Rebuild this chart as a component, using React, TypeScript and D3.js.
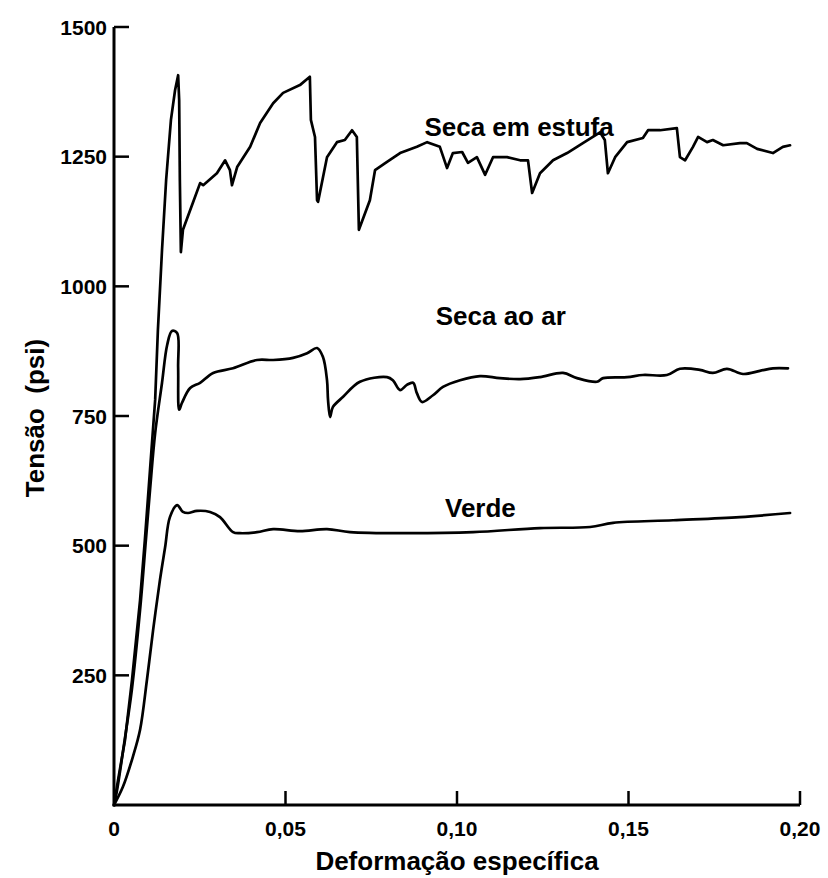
import React from "react";
import * as d3 from "d3";

const xTicks = [0, 0.05, 0.1, 0.15, 0.2];
const xTickLabels = ["0", "0,05", "0,10", "0,15", "0,20"];
const yTicks = [250, 500, 750, 1000, 1250, 1500];
const yTickLabels = ["250", "500", "750", "1000", "1250", "1500"];

// Seca em estufa: [deformação, tensão]
const estufaX = [0, 0.00117, 0.0032, 0.00525, 0.0076, 0.009, 0.0105, 0.012, 0.0128, 0.014, 0.0152, 0.0166, 0.0178, 0.0187,
  0.019, 0.0192, 0.0195, 0.0201, 0.023, 0.0251, 0.026, 0.03, 0.0324, 0.0338, 0.0344, 0.0359, 0.0397, 0.0426, 0.0464, 0.0493,
  0.0542, 0.0571, 0.0574, 0.0586, 0.0592, 0.0595, 0.0621, 0.065, 0.0673, 0.0694, 0.0708, 0.0714, 0.0746, 0.0761, 0.0796,
  0.0834, 0.0883, 0.0913, 0.095, 0.0971, 0.0988, 0.1015, 0.1032, 0.1058, 0.1082, 0.1105, 0.1146, 0.1184, 0.1207, 0.1219,
  0.1242, 0.128, 0.1321, 0.1367, 0.1417, 0.1431, 0.144, 0.1461, 0.1496, 0.1542, 0.1557, 0.1592, 0.1641, 0.165, 0.1665,
  0.1688, 0.1703, 0.1729, 0.1746, 0.1776, 0.1825, 0.1845, 0.1875, 0.1921, 0.195, 0.1971];
const estufaY = [0, 48, 125, 241, 395, 511, 646, 781, 916, 1070, 1205, 1321, 1378, 1407,
  1359, 1205, 1066, 1109, 1161, 1199, 1195, 1218, 1243, 1224, 1195, 1230, 1269, 1315, 1353, 1373,
  1388, 1404, 1321, 1288, 1166, 1163, 1249, 1278, 1282, 1301, 1288, 1109, 1166, 1224, 1240,
  1257, 1269, 1278, 1269, 1228, 1257, 1259, 1238, 1249, 1215, 1249, 1249, 1243, 1243, 1180,
  1218, 1243, 1257, 1276, 1297, 1282, 1218, 1249, 1278, 1286, 1301, 1301, 1305, 1249, 1243,
  1269, 1288, 1278, 1282, 1272, 1276, 1276, 1265, 1257, 1269, 1272];

// Seca ao ar
const arX = [0, 0.0009, 0.0029, 0.0052, 0.0076, 0.0093, 0.0105, 0.012, 0.014, 0.0155, 0.0169, 0.0184, 0.0187, 0.019,
  0.0198, 0.0222, 0.0251, 0.0289, 0.0347, 0.0417, 0.0464, 0.0522, 0.0563, 0.0592, 0.0609, 0.0621, 0.0624, 0.063, 0.0638,
  0.0668, 0.0717, 0.0796, 0.0813, 0.0834, 0.0854, 0.0872, 0.0883, 0.0898, 0.093, 0.0959, 0.1009, 0.1067, 0.1125, 0.1184,
  0.1242, 0.1309, 0.135, 0.1408, 0.1426, 0.1496, 0.1542, 0.1612, 0.165, 0.1708, 0.1746, 0.1787, 0.1834, 0.1883, 0.1921, 0.1965];
const arY = [0, 29, 116, 222, 376, 511, 607, 717, 814, 887, 914, 910, 844, 762,
  775, 804, 814, 833, 842, 858, 858, 862, 871, 881, 864, 819, 781, 748, 767,
  787, 816, 825, 819, 800, 810, 814, 794, 777, 790, 806, 819, 827, 823, 821,
  825, 833, 823, 816, 823, 825, 829, 829, 841, 839, 833, 841, 831, 837, 842, 842];

// Verde
const verdeX = [0, 0.0026, 0.0055, 0.0076, 0.0096, 0.0114, 0.0134, 0.0149, 0.0163, 0.0184, 0.0201, 0.0216, 0.0242, 0.028,
  0.0309, 0.0347, 0.0367, 0.0417, 0.0464, 0.0542, 0.0621, 0.0688, 0.0854, 0.1047, 0.1242, 0.1388, 0.1455, 0.163, 0.1825, 0.1971];
const verdeY = [0, 35, 93, 145, 241, 337, 434, 497, 555, 578, 565, 563, 567, 565,
  555, 526, 524, 526, 532, 528, 532, 526, 524, 526, 534, 536, 544, 549, 555, 563];

const seriesNames = ["Seca em estufa", "Seca ao ar", "Verde"];
const labelPos = [
  [0.0905, 1290],
  [0.0938, 925],
  [0.0965, 555],
];

const FONT = "'Liberation Sans', Arial, Helvetica, sans-serif";

export default function App() {
  const x = d3.scaleLinear().domain([0, 0.2]).range([114, 800]);
  const y = d3.scaleLinear().domain([0, 1500]).range([805, 27]);
  const straight = d3
    .line<[number, number]>()
    .x((d) => x(d[0]))
    .y((d) => y(d[1]));
  const smooth = d3
    .line<[number, number]>()
    .x((d) => x(d[0]))
    .y((d) => y(d[1]))
    .curve(d3.curveCatmullRom.alpha(0.5));
  const zip = (xs: number[], ys: number[]) => xs.map((v, i) => [v, ys[i]] as [number, number]);
  const paths = [
    straight(zip(estufaX, estufaY)),
    smooth(zip(arX, arY)),
    smooth(zip(verdeX, verdeY)),
  ];

  return (
    <svg
      width={828}
      height={878}
      style={{ position: "absolute", left: 0, top: 0, background: "#fff" }}
      fontFamily={FONT}
    >
      <rect x={0} y={0} width={828} height={878} fill="#fff" />
      {paths.map((p, i) => (
        <path
          key={i}
          d={p || ""}
          fill="none"
          stroke="#000"
          strokeWidth={2.7}
          strokeLinejoin="round"
          strokeLinecap="round"
        />
      ))}
      {/* axes */}
      <line x1={x(0)} x2={x(0.2)} y1={y(0)} y2={y(0)} stroke="#000" strokeWidth={3} />
      <line x1={x(0)} x2={x(0)} y1={y(0) + 1.5} y2={y(1500)} stroke="#000" strokeWidth={3} />
      {xTicks.slice(1).map((t) => (
        <line key={t} x1={x(t)} x2={x(t)} y1={y(0)} y2={y(0) - 14} stroke="#000" strokeWidth={2.5} />
      ))}
      {yTicks.map((t) => (
        <line key={t} x1={x(0)} x2={x(0) + 15} y1={y(t)} y2={y(t)} stroke="#000" strokeWidth={2.5} />
      ))}
      {xTicks.map((t, i) => (
        <text key={t} x={x(t)} y={836} textAnchor="middle" fontSize={21} fontWeight="bold">
          {xTickLabels[i]}
        </text>
      ))}
      {yTicks.map((t, i) => (
        <text key={t} x={107} y={y(t)} dy="0.36em" textAnchor="end" fontSize={21} fontWeight="bold">
          {yTickLabels[i]}
        </text>
      ))}
      <text x={457} y={870} textAnchor="middle" fontSize={26} fontWeight="bold">
        Deformação específica
      </text>
      <text
        transform="translate(44,418) rotate(-90)"
        textAnchor="middle"
        fontSize={26}
        fontWeight="bold"
        style={{ whiteSpace: "pre" }}
      >
        {"Tensão  (psi)"}
      </text>
      {seriesNames.map((n, i) => (
        <text key={n} x={x(labelPos[i][0])} y={y(labelPos[i][1])} fontSize={26} fontWeight="bold">
          {n}
        </text>
      ))}
    </svg>
  );
}
